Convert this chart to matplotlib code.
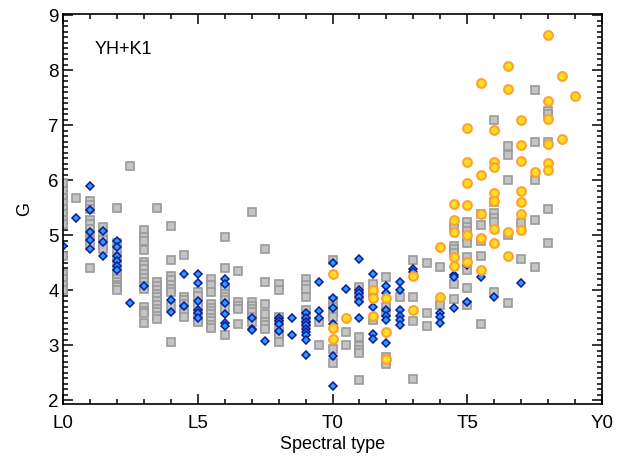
import matplotlib
matplotlib.use("Agg")
import matplotlib.pyplot as plt
from matplotlib.ticker import MultipleLocator
import numpy as np

plt.rcParams['font.family'] = ['Liberation Sans', 'DejaVu Sans']

# G index vs spectral type (0 = L0, 10 = T0, 20 = Y0), one list per subtype
grey = {
    0: [5.95, 5.8, 5.68, 5.58, 5.48, 5.38, 5.28, 5.2, 4.62, 4.3, 4.2, 4.1, 4.0],
    0.5: [5.68],
    1: [5.62, 5.55, 5.47, 5.28, 5.2, 5.12, 5.02, 4.92, 4.82, 4.4],
    1.5: [5.15, 5.0, 4.92, 4.82, 4.75],
    2: [5.5, 4.85, 4.75, 4.6, 4.5, 4.35, 4.3, 4.25, 4.2, 4.15, 4.1, 4.05, 4.0],
    2.5: [6.25],
    3: [5.1, 4.97, 4.9, 4.73, 4.52, 4.45, 4.38, 4.3, 4.22, 4.15, 4.08, 4.02, 3.7, 3.62, 3.58, 3.4],
    3.5: [5.5, 4.15, 4.08, 4.0, 3.93, 3.87, 3.8, 3.73, 3.66, 3.6, 3.53, 3.48],
    4: [5.16, 4.55, 4.25, 4.18, 4.1, 4.02, 3.97, 3.72, 3.06],
    4.5: [4.64, 3.88, 3.82, 3.75, 3.64, 3.58, 3.52],
    5: [3.97, 3.9, 3.7, 3.52, 3.45, 3.42],
    5.5: [4.21, 4.09, 3.97, 3.75, 3.68, 3.62, 3.56, 3.5, 3.43, 3.37, 3.31],
    6: [4.96, 4.41, 4.05, 4.0, 3.93, 3.87, 3.82, 3.65, 3.19],
    6.5: [4.34, 3.78, 3.72, 3.66, 3.38],
    7: [5.42, 3.78, 3.72, 3.66, 3.6, 3.52, 3.42],
    7.5: [4.74, 4.15, 3.75, 3.56, 3.42, 3.37, 3.3],
    8: [4.12, 4.0, 3.52, 3.45, 3.3, 3.2, 3.15, 3.06],
    9: [4.21, 4.09, 4.02, 3.88, 3.64, 3.5, 3.4],
    9.5: [3.42, 3.0],
    10: [4.55, 3.8, 3.7, 3.6, 3.52, 2.93, 2.68],
    10.5: [3.23, 3.0],
    11: [4.05, 3.95, 3.85, 3.15, 2.98, 2.92, 2.86, 2.36],
    11.5: [4.12, 3.95, 3.45],
    12: [4.24, 3.7, 3.6, 2.79, 2.72, 2.66],
    12.5: [3.87],
    13: [4.55, 3.88, 3.44, 2.39],
    13.5: [4.5, 3.59, 3.35],
    14: [4.42, 3.73],
    14.5: [5.15, 4.8, 4.74, 4.68, 4.12, 3.84],
    15: [5.24, 5.15, 5.07, 4.95, 4.85, 4.6, 4.36, 4.03, 3.73],
    15.5: [5.39, 5.18, 4.9, 4.62, 3.39],
    16: [7.09, 5.6, 5.4, 5.32, 5.24, 3.97],
    16.5: [6.62, 6.45, 6.01, 5.0, 3.77],
    17: [5.22, 4.56],
    17.5: [7.64, 6.69, 6.0, 5.27, 4.42],
    18: [7.25, 7.2, 6.69, 5.47, 4.85],
}

blue = {
    0: [4.8],
    0.5: [5.32],
    1: [5.9, 5.45, 5.05, 4.92, 4.75],
    1.5: [5.07, 4.87, 4.62],
    2: [4.9, 4.79, 4.62, 4.53, 4.43, 4.36],
    2.5: [3.76],
    3: [4.07],
    4: [3.82, 3.6],
    4.5: [4.3, 3.71],
    5: [4.29, 4.13, 3.8, 3.64, 3.59, 3.49],
    6: [4.2, 4.12, 3.76, 3.56, 3.41, 3.35],
    7: [3.49, 3.3, 3.27],
    7.5: [3.08],
    8: [3.49, 3.43, 3.39, 3.25],
    8.5: [3.5, 3.18],
    9: [3.58, 3.49, 3.42, 3.36, 3.3, 3.24, 3.18, 3.09, 2.82],
    9.5: [4.14, 3.62, 3.5],
    10: [4.5, 3.85, 3.68, 3.39, 2.81, 2.25],
    10.5: [4.02],
    11: [4.56, 4.0, 3.94, 3.88, 3.79, 3.5],
    11.5: [4.29, 3.7, 3.21, 3.11],
    12: [4.08, 3.95, 3.64, 3.53, 3.45, 3.04],
    12.5: [4.14, 4.0, 3.64, 3.53, 3.45, 3.36],
    13: [4.38, 4.33],
    14: [3.59, 3.51, 3.41],
    14.5: [4.28, 4.23, 3.67],
    15: [4.45, 3.79],
    15.5: [4.24],
    16: [3.87],
    17: [4.13],
}

orange = {
    10: [4.3, 3.31, 3.11],
    10.5: [3.49],
    11.5: [4.0, 3.85, 3.53],
    12: [3.85, 3.23, 2.74],
    13: [4.25, 3.64],
    14: [4.78, 3.88],
    14.5: [5.57, 5.28, 5.06, 4.61, 4.44],
    15: [6.95, 6.33, 5.95, 5.55, 5.01, 4.51],
    15.5: [7.77, 6.1, 5.39, 4.95, 4.36],
    16: [6.92, 6.33, 6.24, 5.77, 5.62, 5.12, 4.85],
    16.5: [8.08, 7.65, 5.06, 4.62],
    17: [7.09, 6.64, 6.35, 5.8, 5.61, 5.38, 5.1],
    17.5: [6.14],
    18: [8.64, 7.44, 7.11, 6.65, 6.31, 6.18],
    18.5: [7.9, 6.75],
    19: [7.53],
}

xtick_pos = [0, 5, 10, 15, 20]
xtick_lab = ['L0', 'L5', 'T0', 'T5', 'Y0']


def flatten(d):
    xs, ys = [], []
    for k, vals in d.items():
        xs += [k] * len(vals)
        ys += vals
    return np.array(xs), np.array(ys)


fig = plt.figure(figsize=(6.3, 4.57), dpi=100)
ax = fig.add_axes([0.1, 0.116, 0.8556, 0.8534])

x, y = flatten(grey)
ax.plot(x, y, 's', ms=5.8, mfc='#c4c4c4', mec='#9a9a9a', mew=1.2)
x, y = flatten(blue)
ax.plot(x, y, 'D', ms=3.9, mfc='#2a9cff', mec='#0a1a9a', mew=1.1)
x, y = flatten(orange)
ax.plot(x, y, 'o', ms=6.3, mfc='#ffe020', mec='#ffa030', mew=1.5)

ax.set_xlim(0, 20)
ax.set_ylim(1.93, 9.02)
ax.set_xticks(xtick_pos)
ax.set_xticklabels(xtick_lab)
ax.xaxis.set_minor_locator(MultipleLocator(1))
ax.yaxis.set_major_locator(MultipleLocator(1))
ax.yaxis.set_minor_locator(MultipleLocator(0.1))
ax.tick_params(which='both', direction='in', top=True, right=True, width=1.1)
ax.tick_params(which='major', length=7, labelsize=13.5)
ax.tick_params(which='minor', length=3.5)
ax.tick_params(axis='x', which='major', pad=8)
ax.tick_params(axis='y', which='major', pad=3)
for s in ax.spines.values():
    s.set_linewidth(1.2)
    s.set_zorder(5)

ax.set_xlabel('Spectral type', fontsize=13, labelpad=3)
ax.set_ylabel('G', fontsize=13, labelpad=11)
ax.text(0.059, 0.908, 'YH+K1', transform=ax.transAxes, fontsize=13, va='center', ha='left')

fig.savefig('out.png', dpi=100)
